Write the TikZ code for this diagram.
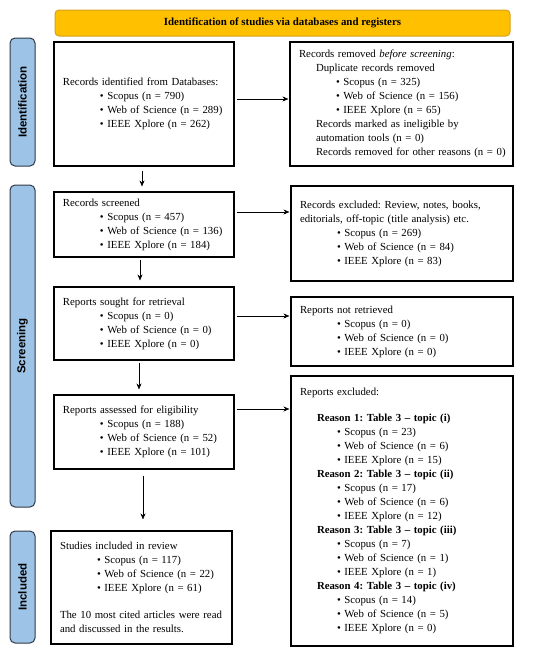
\documentclass[tikz,border=0pt]{standalone}
\usepackage{fontspec}
\setmainfont{Liberation Serif}
\newfontfamily\sidefont{Liberation Sans}
\usepackage{tikz,xcolor}
\usetikzlibrary{calc,arrows.meta}

\definecolor{bannerfill}{HTML}{FFC000}
\definecolor{bannerline}{HTML}{D4A21A}
\definecolor{sidefill}{HTML}{9DC3E6}
\definecolor{sideline}{HTML}{2F3A48}

\newcommand{\bul}[1]{\hspace*{37pt}\textbullet\ #1}
\newcommand{\sub}[1]{\hspace*{17pt}\mbox{#1}}
\frenchspacing

\begin{document}
\begin{tikzpicture}[x=1pt,y=-1pt,
  flowbox/.style={draw=black, line width=1.1pt, inner xsep=9pt, inner ysep=0pt,
    align=left, font=\fontsize{10.8}{14}\selectfont},
  sidebox/.style={draw=sideline, fill=sidefill, line width=1pt, rounded corners=5pt,
    rotate=90, minimum height=25pt, inner sep=0pt, font=\sidefont\bfseries\fontsize{11.5}{13}\selectfont},
  flowarrow/.style={-{Stealth[length=6pt,width=5pt]}, line width=0.6pt}]
\useasboundingbox (0,0) rectangle (550,657);

% Top banner
\node[draw=bannerline, fill=bannerfill, line width=1pt, rounded corners=4pt,
  minimum width=455pt, minimum height=26pt, font=\bfseries\fontsize{10.9}{12}\selectfont]
  (banner) at (282.5,23) {Identification of studies via databases and registers};

% Side labels
\node[sidebox, minimum width=128pt] (sideid) at (22.5,102) {Identification};
\node[sidebox, minimum width=322pt] (sidescr) at (22.5,346) {Screening};
\node[sidebox, minimum width=112pt] (sideinc) at (22.5,587) {Included};

% Left column
\node[flowbox, text width=162pt, minimum height=124pt] (ident) at (144,104) {%
Records identified from Databases:\\
\bul{Scopus (n = 790)}\\
\bul{Web of Science (n = 289)}\\
\bul{IEEE Xplore (n = 262)}};

\node[flowbox, text width=162pt, minimum height=65pt] (screened) at (144,224.5) {%
Records screened\\
\bul{Scopus (n = 457)}\\
\bul{Web of Science (n = 136)}\\
\bul{IEEE Xplore (n = 184)}};

\node[flowbox, text width=162pt, minimum height=73pt] (sought) at (144,323.5) {%
Reports sought for retrieval\\
\bul{Scopus (n = 0)}\\
\bul{Web of Science (n = 0)}\\
\bul{IEEE Xplore (n = 0)}};

\node[flowbox, text width=162pt, minimum height=74pt] (assessed) at (144,432) {%
Reports assessed for eligibility\\
\bul{Scopus (n = 188)}\\
\bul{Web of Science (n = 52)}\\
\bul{IEEE Xplore (n = 101)}};

\node[flowbox, text width=163pt, minimum height=113pt] (included) at (141.5,587.5) {%
Studies included in review\\
\bul{Scopus (n = 117)}\\
\bul{Web of Science (n = 22)}\\
\bul{IEEE Xplore (n = 61)}\\[13pt]
The 10 most cited articles were read\\
and discussed in the results.};

% Right column
\node[flowbox, text width=205pt, minimum height=124pt] (removed) at (401.5,104) {%
Records removed \textit{before screening}:\\
\sub{Duplicate records removed}\\
\bul{Scopus (n = 325)}\\
\bul{Web of Science (n = 156)}\\
\bul{IEEE Xplore (n = 65)}\\
\sub{Records marked as ineligible by}\\
\sub{automation tools (n = 0)}\\
\sub{Records removed for other reasons (n = 0)}};

\node[flowbox, text width=204pt, minimum height=95pt] (excluded) at (402,233.5) {%
Records excluded: Review, notes, books,\\
editorials, off-topic (title analysis) etc.\\
\bul{Scopus (n = 269)}\\
\bul{Web of Science (n = 84)}\\
\bul{IEEE Xplore (n = 83)}};

\node[flowbox, text width=204pt, minimum height=69pt] (notretr) at (402,331.5) {%
Reports not retrieved\\
\bul{Scopus (n = 0)}\\
\bul{Web of Science (n = 0)}\\
\bul{IEEE Xplore (n = 0)}};

\node[flowbox, text width=204pt, minimum height=270pt] (rexcl) at (402,511) {%
Reports excluded:\\[12pt]
\sub{\textbf{Reason 1: Table 3 -- topic (i)}}\\
\bul{Scopus (n = 23)}\\
\bul{Web of Science (n = 6)}\\
\bul{IEEE Xplore (n = 15)}\\
\sub{\textbf{Reason 2: Table 3 -- topic (ii)}}\\
\bul{Scopus (n = 17)}\\
\bul{Web of Science (n = 6)}\\
\bul{IEEE Xplore (n = 12)}\\
\sub{\textbf{Reason 3: Table 3 -- topic (iii)}}\\
\bul{Scopus (n = 7)}\\
\bul{Web of Science (n = 1)}\\
\bul{IEEE Xplore (n = 1)}\\
\sub{\textbf{Reason 4: Table 3 -- topic (iv)}}\\
\bul{Scopus (n = 14)}\\
\bul{Web of Science (n = 5)}\\
\bul{IEEE Xplore (n = 0)}};

% Horizontal arrows
\draw[flowarrow, shorten <=2pt, shorten >=1pt] ([yshift=5pt]ident.east) -- ([yshift=5pt]ident.east -| removed.west);
\draw[flowarrow, shorten <=2pt, shorten >=1pt] ([yshift=12.5pt]screened.east) -- ([yshift=12.5pt]screened.east -| excluded.west);
\draw[flowarrow, shorten <=2pt, shorten >=1pt] ([yshift=7.5pt]sought.east) -- ([yshift=7.5pt]sought.east -| notretr.west);
\draw[flowarrow, shorten <=2pt, shorten >=1pt] ([yshift=23pt]assessed.east) -- ([yshift=23pt]assessed.east -| rexcl.west);

% Vertical arrows
\draw[flowarrow, shorten <=4pt, shorten >=5pt] ([xshift=-2pt]ident.south) -- ([xshift=-2pt]ident.south |- screened.north);
\draw[flowarrow, shorten <=2pt, shorten >=6pt] ([xshift=-4pt]screened.south) -- ([xshift=-4pt]screened.south |- sought.north);
\draw[flowarrow, shorten <=2pt, shorten >=5pt] ([xshift=-5pt]sought.south) -- ([xshift=-5pt]sought.south |- assessed.north);
\draw[flowarrow, shorten <=6pt, shorten >=11pt] ([xshift=-1pt]assessed.south) -- ([xshift=-1pt]assessed.south |- included.north);
\end{tikzpicture}
\end{document}
